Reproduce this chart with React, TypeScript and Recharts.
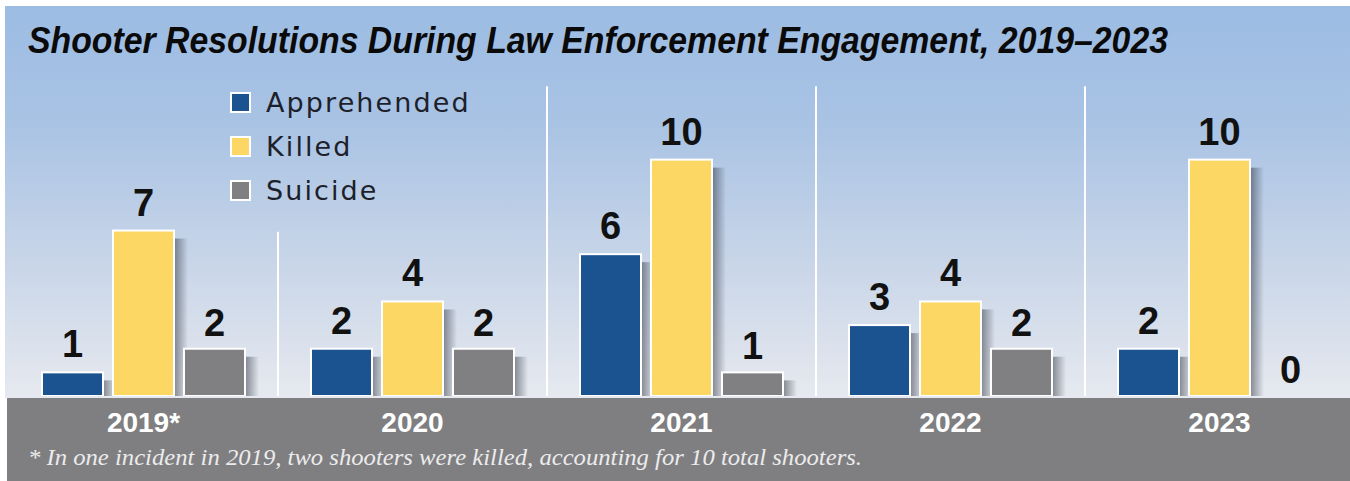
import React from 'react';
import { BarChart, Bar, XAxis, YAxis, Legend, LabelList, ReferenceArea } from 'recharts';

const years = ['2019*', '2020', '2021', '2022', '2023'];
const apprehended = [1, 2, 6, 3, 2];
const killed = [7, 4, 10, 4, 10];
const suicide = [2, 2, 1, 2, 0];

const title = 'Shooter Resolutions During Law Enforcement Engagement, 2019–2023';
const footnote = '* In one incident in 2019, two shooters were killed, accounting for 10 total shooters.';

const COLORS = { apprehended: '#1b5290', killed: '#fcd764', suicide: '#808083' };

const data = years.map((year, i) => ({
  year,
  Apprehended: apprehended[i],
  Killed: killed[i],
  Suicide: suicide[i],
}));

// bar with white rim and a soft shadow on its right side
const ShadowBar = (props: any) => {
  const { x, y, width, height, fill } = props;
  if (!height || height <= 0) return null;
  return (
    <g>
      <rect x={x + width} y={y + 8} width={14} height={height - 8} fill="url(#barShade)" />
      <rect x={x} y={y} width={width} height={height} fill={fill} stroke="#ffffff" strokeWidth={2} />
    </g>
  );
};

// white divider drawn on the right edge of a year band
const Divider = (props: any) => {
  const { x, y, width, height } = props;
  const lx = x + width;
  return <line x1={lx} x2={lx} y1={y} y2={y + height} stroke="#ffffff" strokeWidth={2} />;
};

const YearTick = (props: any) => {
  const { x, y, payload } = props;
  return (
    <text x={x} y={y + 36} textAnchor="middle" fill="#ffffff" fontFamily="Liberation Sans, Arial, sans-serif" fontWeight="bold" fontSize={28}>
      {payload.value}
    </text>
  );
};

const LegendBox = (props: any) => {
  const { payload } = props;
  return (
    <div>
      {(payload || []).map((p: any) => (
        <div key={p.value} style={{ display: 'flex', alignItems: 'center', height: 44 }}>
          <div style={{ width: 17, height: 17, background: p.color, border: '2px solid #ffffff', marginRight: 15 }} />
          <span style={{ fontFamily: 'DejaVu Sans, sans-serif', fontSize: 27, letterSpacing: 2.1, color: '#1d1f2b' }}>{p.value}</span>
        </div>
      ))}
    </div>
  );
};

const labelStyle = { fontFamily: 'Liberation Sans, Arial, sans-serif', fontWeight: 'bold', fontSize: 38, fill: '#111111' };

export default function App() {
  return (
    <div style={{ position: 'absolute', left: 0, top: 0, width: 1350, height: 481, overflow: 'hidden', background: '#ffffff' }}>
      <div style={{ position: 'absolute', left: 5, top: 6, width: 1345, height: 392, background: 'linear-gradient(to bottom, #9cbce3 0%, #a9c3e4 30%, #c8d5e8 65%, #e6e9ef 100%)' }} />
      <div style={{ position: 'absolute', left: 7, top: 398, width: 1343, height: 83, background: '#7f7f82' }} />
      <div style={{ position: 'absolute', left: 0, top: 0 }}>
        <BarChart width={1360} height={481} data={data} margin={{ top: 84, right: 6, left: 9, bottom: 0 }} barSize={61} barGap={10}>
          <defs>
            <linearGradient id="barShade" x1="0" y1="0" x2="1" y2="0">
              <stop offset="0%" stopColor="#1f2430" stopOpacity={0.5} />
              <stop offset="100%" stopColor="#1f2430" stopOpacity={0} />
            </linearGradient>
          </defs>
          <XAxis dataKey="year" height={85} tickLine={false} axisLine={false} tickSize={0} tickMargin={0} tick={<YearTick />} interval={0} />
          <YAxis domain={[0, 13.2]} allowDataOverflow hide />
          {/* first divider stops below the legend */}
          <ReferenceArea x1={years[0]} x2={years[0]} y1={0} y2={6.95} shape={<Divider />} />
          {years.slice(1, 4).map((yr) => (
            <ReferenceArea key={yr} x1={yr} x2={yr} y1={0} y2={13.1} shape={<Divider />} />
          ))}
          <Legend
            layout="vertical"
            align="center"
            verticalAlign="middle"
            wrapperStyle={{ left: 230, top: 80, width: 270 }}
            content={<LegendBox />}
          />
          <Bar dataKey="Apprehended" fill={COLORS.apprehended} shape={<ShadowBar />} isAnimationActive={false}>
            <LabelList dataKey="Apprehended" position="top" offset={15} style={labelStyle} />
          </Bar>
          <Bar dataKey="Killed" fill={COLORS.killed} shape={<ShadowBar />} isAnimationActive={false}>
            <LabelList dataKey="Killed" position="top" offset={15} style={labelStyle} />
          </Bar>
          <Bar dataKey="Suicide" fill={COLORS.suicide} shape={<ShadowBar />} isAnimationActive={false}>
            <LabelList dataKey="Suicide" position="top" offset={13} style={labelStyle} />
          </Bar>
        </BarChart>
      </div>
      <svg width={1350} height={481} style={{ position: 'absolute', left: 0, top: 0, pointerEvents: 'none' }}>
        <text x={28} y={53} fontFamily="Liberation Sans, Arial, sans-serif" fontWeight="bold" fontStyle="italic" fontSize={36} fill="#0a0a0a" textLength={1140} lengthAdjust="spacingAndGlyphs">
          {title}
        </text>
        <text x={28} y={465} fontFamily="Liberation Serif, serif" fontStyle="italic" fontSize={24} fill="#ececec" textLength={834} lengthAdjust="spacingAndGlyphs">
          {footnote}
        </text>
      </svg>
    </div>
  );
}
